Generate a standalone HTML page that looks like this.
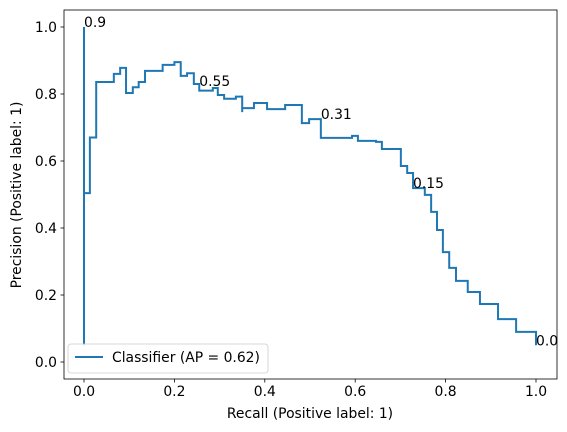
<!DOCTYPE html>
<html><head><meta charset="utf-8"><style>
body{margin:0;background:#fff}
svg{display:block;font-family:"DejaVu Sans","Liberation Sans",sans-serif}
</style></head><body>
<svg id="chart" width="567" height="432" viewBox="0 0 567 432">
<rect x="0" y="0" width="567" height="432" fill="#fff"/>
<g id="axes"></g>
<g id="series"></g>
<rect x="64" y="10" width="493" height="369" fill="none" stroke="#000" stroke-width="0.8"/>
<text x="310" y="418" font-size="13.9" text-anchor="middle">Recall (Positive label: 1)</text>
<text transform="translate(21,195) rotate(-90)" font-size="13.9" text-anchor="middle">Precision (Positive label: 1)</text>
<g>
<rect x="68" y="344" width="200" height="29" rx="3" fill="#fff" fill-opacity="0.8" stroke="#ccc" stroke-width="0.8"/>
<line x1="75" y1="357" x2="103" y2="357" stroke="#1f77b4" stroke-width="2"/>
<text x="112" y="362" font-size="13.9">Classifier (AP = 0.62)</text>
</g>
</svg>
<script>
const xTicks=[0,0.2,0.4,0.6,0.8,1.0];
const xTickLabels=["0.0","0.2","0.4","0.6","0.8","1.0"];
const yTicks=[0,0.2,0.4,0.6,0.8,1.0];
const yTickLabels=["0.0","0.2","0.4","0.6","0.8","1.0"];
const recall=[0,0,0,0.013,0.027,0.066,0.08,0.093,0.108,0.121,0.135,0.174,0.2,0.214,0.228,0.243,0.255,0.285,0.296,0.31,0.336,0.35,0.35,0.376,0.405,0.445,0.482,0.498,0.524,0.593,0.606,0.646,0.659,0.701,0.715,0.728,0.754,0.768,0.781,0.794,0.808,0.823,0.849,0.876,0.916,0.956,1.0,1.0];
const precision=[1.0,0.05,0.504,0.67,0.836,0.86,0.878,0.803,0.82,0.836,0.869,0.887,0.895,0.854,0.862,0.83,0.81,0.818,0.797,0.786,0.792,0.746,0.758,0.773,0.755,0.767,0.713,0.725,0.669,0.675,0.66,0.657,0.636,0.585,0.564,0.519,0.499,0.448,0.394,0.328,0.281,0.242,0.209,0.173,0.128,0.09,0.05,0.05];
const annRecall=[0,0.255,0.524,0.728,1.0];
const annPrecision=[1.0,0.824,0.725,0.52,0.05];
const annLabels=["0.9","0.55","0.31","0.15","0.0"];

const NS="http://www.w3.org/2000/svg";
const X=v=>84+v*452, Y=v=>362-v*335;
const axes=document.getElementById('axes'), ser=document.getElementById('series');
function mk(tag,attrs,parent){const e=document.createElementNS(NS,tag);for(const k in attrs)e.setAttribute(k,attrs[k]);parent.appendChild(e);return e;}
xTicks.forEach((t,i)=>{
  const l=mk('line',{x1:X(t),x2:X(t),y1:379,y2:382.5,stroke:'#000','stroke-width':0.8},axes);
  
  
  const tx=mk('text',{x:X(t),y:396,'font-size':13.9,'text-anchor':'middle'},axes);
  tx.textContent=xTickLabels[i];
  
  
});
yTicks.forEach((t,i)=>{
  const l=mk('line',{x1:60.5,x2:64,y1:Y(t),y2:Y(t),stroke:'#000','stroke-width':0.8},axes);
  
  
  const tx=mk('text',{x:57,y:Y(t)+5,'font-size':13.9,'text-anchor':'end'},axes);
  tx.textContent=yTickLabels[i];
  
  
});
let d='M'+X(recall[0])+','+Y(precision[0]);
for(let i=1;i<recall.length;i++){d+=' H'+X(recall[i])+' V'+Y(precision[i]);}
const p=mk('path',{d:d,fill:'none',stroke:'#1f77b4','stroke-width':2},ser);


annLabels.forEach((s,i)=>{
  const t=mk('text',{x:X(annRecall[i]),y:Y(annPrecision[i]),'font-size':13.9},ser);
  t.textContent=s;
  
  
});
</script>
</body></html>
